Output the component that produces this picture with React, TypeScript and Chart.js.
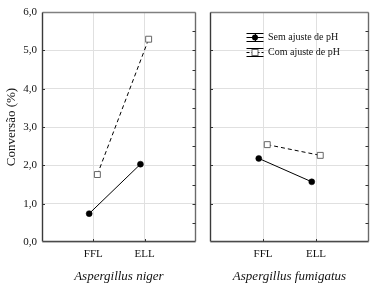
import React, { useEffect, useRef } from "react";
import { Chart, registerables } from "chart.js";
Chart.register(...registerables);

const categories = ["FFL", "ELL"];
const seriesLabels = ["Sem ajuste de pH", "Com ajuste de pH"];
const nigerSem = [0.74, 2.03];
const nigerCom = [1.76, 5.29];
const fumigatusSem = [2.18, 1.57];
const fumigatusCom = [2.54, 2.26];
const panelTitles = ["Aspergillus niger", "Aspergillus fumigatus"];
const yAxisTitle = "Conversão (%)";
const yMin = 0;
const yMax = 6;
const yStep = 1;
const minorStep = 0.5;
const jitter = 0.08;

const FONT = '"Liberation Serif", "Times New Roman", Times, serif';
const GRID = "#e0e0e0";

function toPoints(vals: number[], shift: number) {
  return vals.map((v, i) => ({ x: i + 1 + shift, y: v }));
}

const framePlugin = {
  id: "frame",
  afterDatasetsDraw(chart: any) {
    const { ctx, chartArea, scales } = chart;
    const { left, right, top, bottom } = chartArea;
    const L = Math.round(left) + 0.5;
    const R = Math.round(right) - 0.5;
    const T = Math.round(top) + 0.5;
    const B = Math.round(bottom) - 0.5;
    ctx.save();
    ctx.lineWidth = 1.4;
    const seg = (x1: number, y1: number, x2: number, y2: number, c: string) => {
      ctx.strokeStyle = c;
      ctx.beginPath();
      ctx.moveTo(x1, y1);
      ctx.lineTo(x2, y2);
      ctx.stroke();
    };
    seg(L, T, R, T, "#808080");
    seg(R, T, R, B, "#6a6a6a");
    seg(L, T, L, B, "#3a3a3a");
    seg(L, B, R, B, "#4a4a4a");
    ctx.lineWidth = 1;
    for (let v = yMin + yStep; v < yMax; v += yStep) {
      const y = Math.round(scales.y.getPixelForValue(v)) + 0.5;
      seg(L, y, L + 2.5, y, "#333");
    }
    for (let v = yMin + minorStep; v < yMax - 1e-9; v += minorStep) {
      const y = Math.round(scales.y.getPixelForValue(v)) + 0.5;
      seg(R - 3, y, R, y, "#333");
    }
    categories.forEach((_, i) => {
      const x = Math.round(scales.x.getPixelForValue(i + 1)) + 0.5;
      seg(x, B, x, B - 2.5, "#333");
    });
    ctx.restore();
  },
};

const legendPlugin = {
  id: "errLegend",
  afterDraw(chart: any, _args: any, opts: any) {
    if (!opts || !opts.show) return;
    const { ctx, chartArea } = chart;
    const sx = chartArea.left + 45;
    const tx = chartArea.left + 58;
    const rows = [chartArea.top + 25, chartArea.top + 39.5];
    ctx.save();
    ctx.lineWidth = 1;
    rows.forEach((y, i) => {
      const yy = Math.round(y) + 0.5;
      ctx.strokeStyle = "#000";
      ctx.setLineDash([]);
      ctx.beginPath();
      ctx.moveTo(sx - 8.5, yy - 4);
      ctx.lineTo(sx + 8.5, yy - 4);
      ctx.moveTo(sx - 8.5, yy + 4);
      ctx.lineTo(sx + 8.5, yy + 4);
      ctx.moveTo(Math.round(sx) + 0.5, yy - 4);
      ctx.lineTo(Math.round(sx) + 0.5, yy + 4);
      ctx.stroke();
      if (i === 1) ctx.setLineDash([3, 2]);
      ctx.beginPath();
      ctx.moveTo(sx - 8.5, yy);
      ctx.lineTo(sx + 8.5, yy);
      ctx.stroke();
      ctx.setLineDash([]);
      if (i === 0) {
        ctx.fillStyle = "#000";
        ctx.beginPath();
        ctx.arc(sx, yy, 3, 0, Math.PI * 2);
        ctx.fill();
      } else {
        ctx.fillStyle = "#fff";
        ctx.fillRect(sx - 3, yy - 3, 6, 6);
        ctx.strokeStyle = "#666";
        ctx.strokeRect(sx - 3, yy - 3, 6, 6);
      }
      ctx.fillStyle = "#111";
      ctx.font = `10px ${FONT}`;
      ctx.textAlign = "left";
      ctx.textBaseline = "middle";
      ctx.fillText(seriesLabels[i], tx, yy);
    });
    ctx.restore();
  },
};

function makeConfig(k: number, sem: number[], com: number[]): any {
  const first = k === 0;
  return {
    type: "line",
    data: {
      datasets: [
        {
          label: seriesLabels[0],
          data: toPoints(sem, -jitter),
          borderColor: "#000",
          borderWidth: 1,
          pointStyle: "circle",
          pointRadius: 3,
          pointBackgroundColor: "#000",
          pointBorderColor: "#000",
          pointBorderWidth: 0.5,
          fill: false,
          tension: 0,
        },
        {
          label: seriesLabels[1],
          data: toPoints(com, jitter),
          borderColor: "#000",
          borderWidth: 1,
          borderDash: [4, 3],
          pointStyle: "rect",
          pointRadius: 4.2,
          pointBackgroundColor: "#fff",
          pointBorderColor: "#666",
          pointBorderWidth: 1,
          fill: false,
          tension: 0,
        },
      ],
    },
    options: {
      responsive: false,
      animation: false,
      maintainAspectRatio: false,
      layout: { padding: { left: 0, right: first ? 2 : 14, top: 12, bottom: 0 } },
      plugins: {
        legend: { display: false },
        tooltip: { enabled: false },
        errLegend: { show: !first },
      },
      scales: {
        x: {
          type: "linear",
          min: 0,
          max: categories.length + 1,
          afterBuildTicks: (s: any) => {
            s.ticks = categories.map((_, i) => ({ value: i + 1 }));
          },
          ticks: {
            callback: (v: any) => categories[Math.round(v) - 1] ?? "",
            font: { family: FONT, size: 11 },
            color: "#111",
            padding: 6,
            autoSkip: false,
            maxRotation: 0,
          },
          grid: { color: GRID, drawTicks: false },
          border: { display: false },
          title: {
            display: true,
            text: panelTitles[k],
            font: { family: FONT, size: 13, style: "italic" },
            color: "#111",
            padding: { top: 0, bottom: 6 },
          },
          afterFit: (s: any) => {
            s.height = 48;
          },
        },
        y: {
          min: yMin,
          max: yMax,
          ticks: {
            display: first,
            stepSize: yStep,
            callback: (v: any) => Number(v).toFixed(1).replace(".", ","),
            font: { family: FONT, size: 11 },
            color: "#111",
            padding: 5,
          },
          grid: { color: GRID, drawTicks: false },
          border: { display: false },
          title: {
            display: first,
            text: yAxisTitle,
            font: { family: FONT, size: 13 },
            color: "#111",
            padding: { top: 4, bottom: 0 },
          },
          afterFit: (s: any) => {
            s.width = first ? 42 : 9;
          },
        },
      },
    },
    plugins: [framePlugin, legendPlugin],
  };
}

export default function App() {
  const ref1 = useRef<HTMLCanvasElement | null>(null);
  const ref2 = useRef<HTMLCanvasElement | null>(null);
  useEffect(() => {
    const c1 = new Chart(ref1.current as HTMLCanvasElement, makeConfig(0, nigerSem, nigerCom));
    const c2 = new Chart(ref2.current as HTMLCanvasElement, makeConfig(1, fumigatusSem, fumigatusCom));
    return () => {
      c1.destroy();
      c2.destroy();
    };
  }, []);
  return (
    <div style={{ position: "absolute", left: 0, top: 0, width: 383, height: 290, background: "#fff" }}>
      <canvas
        ref={ref1}
        width={201}
        height={290}
        style={{ position: "absolute", left: 0, top: 0, width: 201, height: 290 }}
      />
      <canvas
        ref={ref2}
        width={182}
        height={290}
        style={{ position: "absolute", left: 201, top: 0, width: 182, height: 290 }}
      />
    </div>
  );
}
